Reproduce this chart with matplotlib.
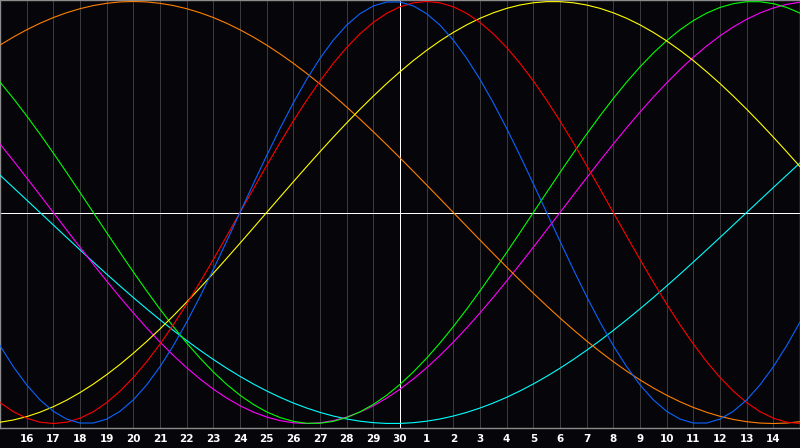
import numpy as np
import matplotlib
matplotlib.use("Agg")
import matplotlib.pyplot as plt

# Day labels at each interior grid line (days 1..29 of a 0..30 day window)
day_labels = ["16", "17", "18", "19", "20", "21", "22", "23", "24", "25", "26", "27", "28", "29", "30",
              "1", "2", "3", "4", "5", "6", "7", "8", "9", "10", "11", "12", "13", "14"]

# Half-day values (-1..1), window positions 0, 0.5, ..., 30
physical = [-0.6311, -0.7308, -0.8170, -0.8879, -0.9423, -0.9791, -0.9977, -0.9977, -0.9791, -0.9423,
            -0.8879, -0.8170, -0.7308, -0.6311, -0.5196, -0.3984, -0.2698, -0.1362, 0.0,
            0.1362, 0.2698, 0.3984, 0.5196, 0.6311, 0.7308, 0.8170, 0.8879, 0.9423, 0.9791, 0.9977,
            0.9977, 0.9791, 0.9423, 0.8879, 0.8170, 0.7308, 0.6311, 0.5196, 0.3984, 0.2698, 0.1362, 0.0,
            -0.1362, -0.2698, -0.3984, -0.5196, -0.6311, -0.7308, -0.8170, -0.8879, -0.9423, -0.9791,
            -0.9977, -0.9977, -0.9791, -0.9423, -0.8879, -0.8170, -0.7308, -0.6311, -0.5196]
emotional = [-0.9010, -0.9439, -0.9749, -0.9937, -1.0, -0.9937, -0.9749, -0.9439, -0.9010, -0.8467,
             -0.7818, -0.7071, -0.6235, -0.5320, -0.4339, -0.3303, -0.2225, -0.1120, 0.0,
             0.1120, 0.2225, 0.3303, 0.4339, 0.5320, 0.6235, 0.7071, 0.7818, 0.8467, 0.9010, 0.9439,
             0.9749, 0.9937, 1.0, 0.9937, 0.9749, 0.9439, 0.9010, 0.8467, 0.7818, 0.7071, 0.6235,
             0.5320, 0.4339, 0.3303, 0.2225, 0.1120, 0.0,
             -0.1120, -0.2225, -0.3303, -0.4339, -0.5320, -0.6235, -0.7071, -0.7818, -0.8467, -0.9010,
             -0.9439, -0.9749, -0.9937, -1.0]
intellectual = [0.6182, 0.5406, 0.4582, 0.3717, 0.2817, 0.1893, 0.0951, 0.0,
                -0.0951, -0.1893, -0.2817, -0.3717, -0.4582, -0.5406, -0.6182, -0.6901, -0.7557, -0.8146,
                -0.8660, -0.9096, -0.9450, -0.9718, -0.9898, -0.9989, -0.9989, -0.9898, -0.9718, -0.9450,
                -0.9096, -0.8660, -0.8146, -0.7557, -0.6901, -0.6182, -0.5406, -0.4582, -0.3717, -0.2817,
                -0.1893, -0.0951, 0.0,
                0.0951, 0.1893, 0.2817, 0.3717, 0.4582, 0.5406, 0.6182, 0.6901, 0.7557, 0.8146,
                0.8660, 0.9096, 0.9450, 0.9718, 0.9898, 0.9989, 0.9989, 0.9898, 0.9718, 0.9450]
intuitive = [0.3247, 0.2455, 0.1646, 0.0826, 0.0,
             -0.0826, -0.1646, -0.2455, -0.3247, -0.4017, -0.4759, -0.5469, -0.6142, -0.6773, -0.7357,
             -0.7891, -0.8372, -0.8795, -0.9158, -0.9458, -0.9694, -0.9864, -0.9966, -1.0, -0.9966,
             -0.9864, -0.9694, -0.9458, -0.9158, -0.8795, -0.8372, -0.7891, -0.7357, -0.6773, -0.6142,
             -0.5469, -0.4759, -0.4017, -0.3247, -0.2455, -0.1646, -0.0826, 0.0,
             0.0826, 0.1646, 0.2455, 0.3247, 0.4017, 0.4759, 0.5469, 0.6142, 0.6773, 0.7357,
             0.7891, 0.8372, 0.8795, 0.9158, 0.9458, 0.9694, 0.9864, 0.9966]
aesthetic = [-0.9940, -0.9834, -0.9675, -0.9464, -0.9204, -0.8894, -0.8535, -0.8133, -0.7685, -0.7200,
             -0.6671, -0.6112, -0.5517, -0.4894, -0.4245, -0.3572, -0.2881, -0.2174, -0.1456, -0.0730,
             0.0,
             0.0730, 0.1456, 0.2174, 0.2881, 0.3572, 0.4245, 0.4894, 0.5517, 0.6112, 0.6671,
             0.7200, 0.7685, 0.8133, 0.8535, 0.8894, 0.9204, 0.9464, 0.9675, 0.9834, 0.9940,
             0.9993, 0.9993, 0.9940, 0.9834, 0.9675, 0.9464, 0.9204, 0.8894, 0.8535, 0.8133,
             0.7685, 0.7200, 0.6671, 0.6112, 0.5517, 0.4894, 0.4245, 0.3572, 0.2881, 0.2174]
awareness = [0.7934, 0.8315, 0.8660, 0.8969, 0.9239, 0.9469, 0.9659, 0.9808, 0.9914, 0.9979,
             1.0, 0.9979, 0.9914, 0.9808, 0.9659, 0.9469, 0.9239, 0.8969, 0.8660, 0.8315,
             0.7934, 0.7518, 0.7071, 0.6593, 0.6088, 0.5556, 0.5, 0.4423, 0.3827, 0.3214,
             0.2588, 0.1951, 0.1305, 0.0654, 0.0,
             -0.0654, -0.1305, -0.1951, -0.2588, -0.3214, -0.3827, -0.4423, -0.5, -0.5556, -0.6088,
             -0.6593, -0.7071, -0.7518, -0.7934, -0.8315, -0.8660, -0.8969, -0.9239, -0.9469, -0.9659,
             -0.9808, -0.9914, -0.9979, -1.0, -0.9979, -0.9914]
spiritual = [0.1769, 0.1183, 0.0592, 0.0,
             -0.0592, -0.1183, -0.1769, -0.2349, -0.2921, -0.3482, -0.4031, -0.4566, -0.5085, -0.5586,
             -0.6068, -0.6528, -0.6966, -0.7380, -0.7766, -0.8126, -0.8456, -0.8758, -0.9028, -0.9267,
             -0.9473, -0.9646, -0.9786, -0.9890, -0.9961, -0.9996, -0.9996, -0.9961, -0.9890, -0.9786,
             -0.9646, -0.9473, -0.9267, -0.9028, -0.8758, -0.8456, -0.8126, -0.7766, -0.7380, -0.6966,
             -0.6528, -0.6068, -0.5586, -0.5085, -0.4566, -0.4031, -0.3482, -0.2921, -0.2349, -0.1769,
             -0.1183, -0.0592, 0.0,
             0.0592, 0.1183, 0.1769, 0.2349]

series = [
    (spiritual, "#00ffff"),
    (intuitive, "#ff00ff"),
    (intellectual, "#00ff00"),
    (awareness, "#ff8000"),
    (aesthetic, "#ffff00"),
    (emotional, "#ff0000"),
    (physical, "#0a64ff"),
]

BG = "#060509"
fig = plt.figure(figsize=(8.0, 4.48), dpi=100, facecolor=BG)
ax = fig.add_axes([0, 20 / 448, 1, 428 / 448], facecolor=BG)

n_days = len(day_labels) + 1
t = np.linspace(0, n_days, len(physical))
ax.set_xlim(0, n_days)
ax.set_ylim(-1.0213, 1.0071)

tick_pos = np.arange(1, len(day_labels) + 1)
for p in tick_pos:
    ax.axvline(p, color="#3a3a3a", lw=0.6, zorder=1, antialiased=False)

ax.axhline(0, color="#ffffff", lw=0.6, zorder=2, antialiased=False)
ax.axvline(day_labels.index("30") + 1, color="#ffffff", lw=0.6, zorder=2, antialiased=False)

for vals, col in series:
    ax.plot(t, vals, color=col, lw=0.8, zorder=3, solid_joinstyle="round")

ax.set_xticks(tick_pos)
ax.set_xticklabels(day_labels, color="white", fontsize=7.5, fontweight="bold",
                   family="DejaVu Sans")
ax.tick_params(axis="x", length=0, pad=4.5)
ax.set_yticks([])

for s in ax.spines.values():
    s.set_color("#8c8c8c")
    s.set_linewidth(1.0)

fig.savefig("out.png", dpi=100, facecolor=BG)
